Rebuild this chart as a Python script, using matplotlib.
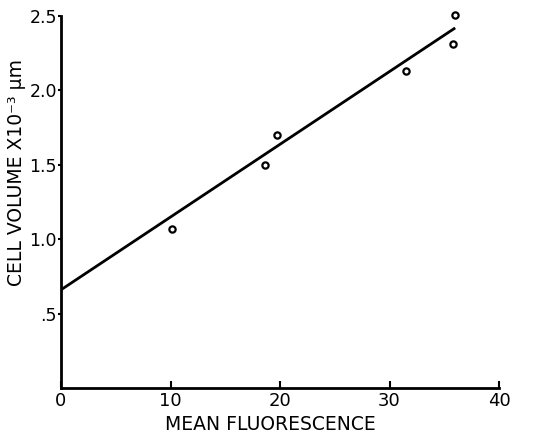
import matplotlib
matplotlib.use("Agg")
import matplotlib.pyplot as plt
import numpy as np

# data
fluor = [10.1, 18.6, 19.7, 31.5, 35.8, 36.0]
volume = [1.07, 1.50, 1.70, 2.13, 2.31, 2.51]
fit_x = [0, 36.0]
fit_y = [0.66, 2.42]
xticks = [0, 10, 20, 30, 40]
yticks = [0.5, 1.0, 1.5, 2.0, 2.5]
ytick_labels = [".5", "1.0", "1.5", "2.0", "2.5"]

plt.rcParams['font.family'] = ['DejaVu Sans']
fig = plt.figure(figsize=(5.59, 4.36), dpi=100)
ax = fig.add_axes([61/559, 48/436, (499-61)/559, (388-16)/436])

ax.plot(fit_x, fit_y, color='black', lw=2.0, solid_capstyle='butt')
ax.plot(fluor, volume, linestyle='none', marker='o', ms=4.5, mfc='white',
        mec='black', mew=1.6, clip_on=False, zorder=5)

ax.set_xlim(0, 40)
ax.set_ylim(0, 2.5)
ax.set_xticks(xticks)
ax.set_xticklabels([str(v) for v in xticks], fontsize=13)
ax.set_yticks(yticks)
ax.set_yticklabels(ytick_labels, fontsize=12.5)
ax.tick_params(axis='x', direction='in', length=5, width=1.5, pad=3)
ax.tick_params(axis='y', direction='out', length=2, width=1.5, pad=1)
for s in ['top', 'right']:
    ax.spines[s].set_visible(False)
for s in ['left', 'bottom']:
    ax.spines[s].set_linewidth(2.0)

fig.text(270/559, (436-424)/436, "MEAN FLUORESCENCE", ha='center', va='center', fontsize=13.5)
fig.text(17/559, (436-173)/436, "CELL VOLUME X10⁻³ μm", ha='center', va='center',
         rotation=90, fontsize=13.5)

fig.savefig("out.png", dpi=100, facecolor='white')
